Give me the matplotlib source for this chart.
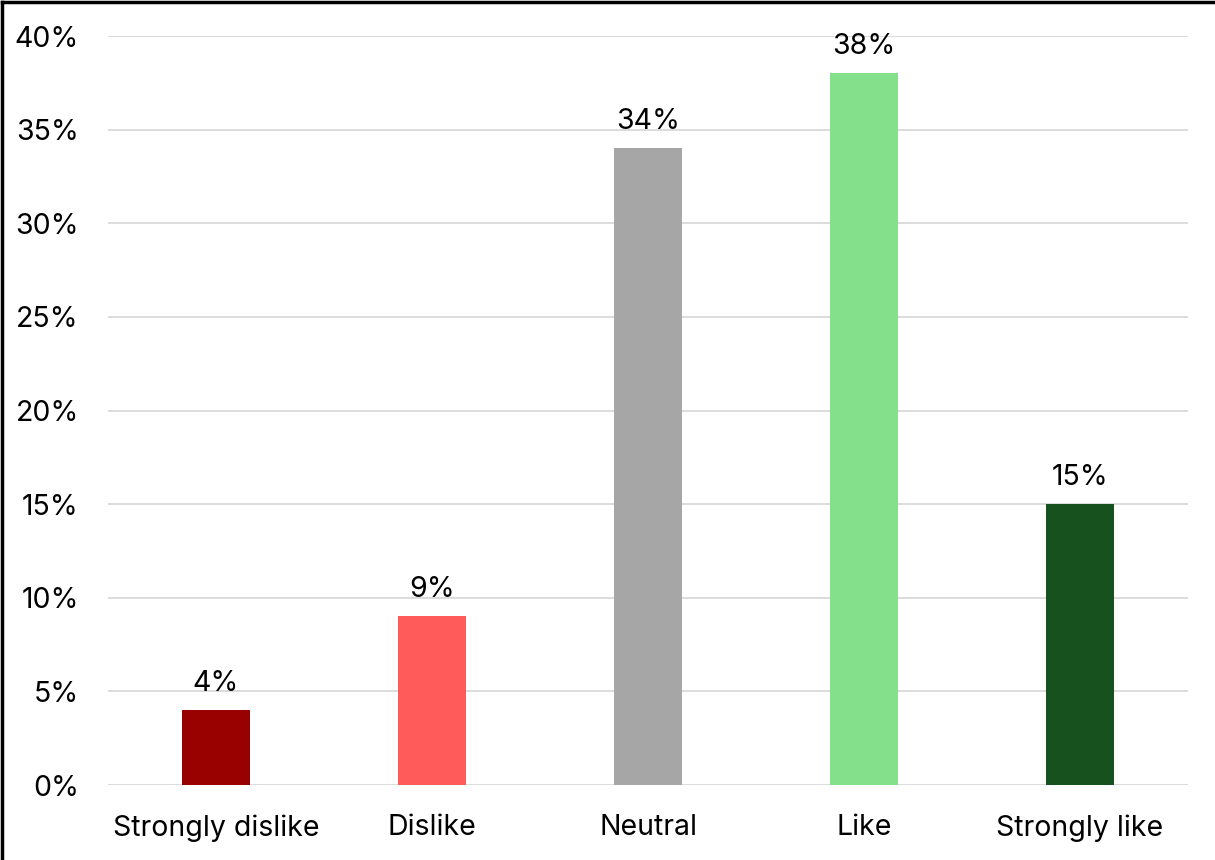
import matplotlib.pyplot as plt
from matplotlib.ticker import PercentFormatter
from matplotlib.lines import Line2D

# survey responses
categories = ["Strongly dislike", "Dislike", "Neutral", "Like", "Strongly like"]
shares = [4, 9, 34, 38, 15]
colors = ["#990000", "#FF5B5B", "#A6A6A6", "#85E08C", "#17521E"]
yticks = [0, 5, 10, 15, 20, 25, 30, 35, 40]

plt.rcParams["font.family"] = ["Inter", "DejaVu Sans"]

fig = plt.figure(figsize=(12.15, 8.6), dpi=100)
ax = fig.add_axes([0.0889, 0.0872, 0.8889, 0.8709])

x = range(len(categories))
bars = ax.bar(x, shares, width=0.315, color=colors, zorder=3)
for b, v in zip(bars, shares):
    ax.annotate(f"{v}%", (b.get_x() + b.get_width() / 2, v),
                xytext=(0, 9.5), textcoords="offset points",
                ha="center", va="bottom", fontsize=20.5, color="#000000")

ax.set_xlim(-0.5, len(categories) - 0.5)
ax.set_ylim(0, 40)
ax.set_yticks(yticks)
ax.yaxis.set_major_formatter(PercentFormatter(decimals=0))
ax.set_xticks(list(x))
ax.set_xticklabels(categories)
ax.tick_params(axis="both", length=0, labelsize=20.5, colors="#000000")
ax.tick_params(axis="y", pad=21)
ax.tick_params(axis="x", pad=21)
ax.grid(axis="y", color="#D9D9D9", linewidth=1.3, zorder=0)
for s in ax.spines.values():
    s.set_visible(False)

# frame lines along the top and left edge
fig.add_artist(Line2D([0.002, 0.002], [0, 0.998], transform=fig.transFigure,
                      color="black", linewidth=2.5))
fig.add_artist(Line2D([0.002, 1], [0.998, 0.998], transform=fig.transFigure,
                      color="black", linewidth=2.5))

fig.savefig("out.png", dpi=100)
